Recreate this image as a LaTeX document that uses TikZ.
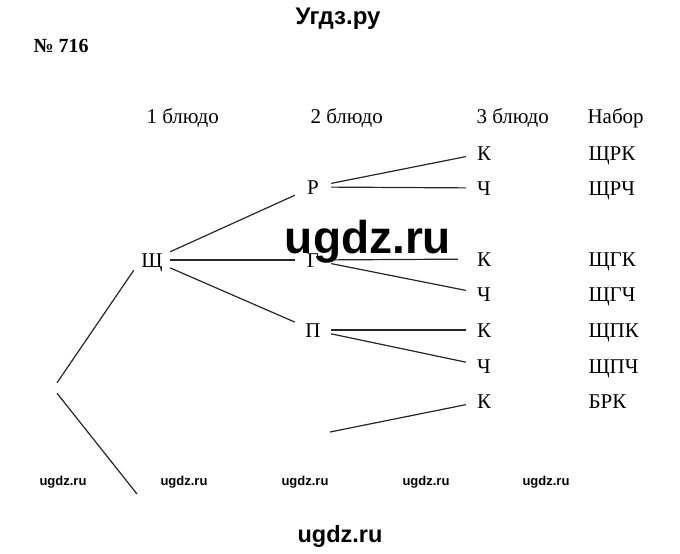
\documentclass[tikz,border=0pt]{standalone}
\usepackage{fontspec}
\setmainfont{Liberation Serif}
\newfontfamily\wmfont{Liberation Sans}
\usetikzlibrary{positioning}

\begin{document}
\begin{tikzpicture}[
  x=1pt, y=-1pt,
  font=\rmfamily\fontsize{21}{25}\selectfont,
  letter/.style={inner sep=0pt, minimum width=36pt, minimum height=20pt,
                 text height=14pt, text depth=0pt},
  head/.style={anchor=base west},
  wmark/.style={font=\wmfont\bfseries\fontsize{13}{15}\selectfont, anchor=base},
  edge/.style={line width=1.2pt, draw=black!85}]
  \useasboundingbox (0,0) rectangle (680,554);
  % title and task number
  \node[anchor=base, font=\wmfont\bfseries\fontsize{24}{28}\selectfont] (title) at (338,24) {Угдз.ру};
  \node[anchor=base west, font=\rmfamily\bfseries\fontsize{20}{24}\selectfont] (task) at (30,52) {№ 716};
  % column heads
  \node[head] (h1) at (143,123) {1 блюдо};
  \node[head] (h2) at (307,123) {2 блюдо};
  \node[head] (h3) at (473,123) {3 блюдо};
  \node[head] (h4) at (584,123) {Набор};
  % tree
  \node[inner sep=0pt, minimum width=0pt, minimum height=10pt] (root) at (57,388) {};
  \coordinate (bend) at (137,494);
  \coordinate (bfree) at (330,432);
  \node[letter] (shch) at (152,260) {Щ};
  \node[letter] (r)  at (313,187) {Р};
  \node[letter] (g)  at (313,260) {Г};
  \node[letter] (p)  at (313,330) {П};
  \node[letter] (k1)  at (484,153) {К};
  \node[letter] (ch1) at (484,188) {Ч};
  \node[letter] (k2)  at (484,259) {К};
  \node[letter] (ch2) at (484,294) {Ч};
  \node[letter] (k3)  at (484,330) {К};
  \node[letter] (ch3) at (484,366) {Ч};
  \node[letter] (k4)  at (484,401) {К};
  % sets
  \node[head] (s1) at (585,160) {ЩРК};
  \node[head] (s2) at (585,195) {ЩРЧ};
  \node[head] (s3) at (585,266) {ЩГК};
  \node[head] (s4) at (585,301) {ЩГЧ};
  \node[head] (s5) at (585,337) {ЩПК};
  \node[head] (s6) at (585,373) {ЩПЧ};
  \node[head] (s7) at (585,408) {БРК};
  % branches
  \draw[edge] (root.north) -- (shch.south west);
  \draw[edge] (root.south) -- (bend);
  \draw[edge] (shch) -- (r);
  \draw[edge] (shch) -- (g);
  \draw[edge] (shch) -- (p);
  \draw[edge] (r) -- (k1);
  \draw[edge] (r) -- (ch1);
  \draw[edge, shorten >=8pt] (g) -- (k2);
  \draw[edge] (g) -- (ch2);
  \draw[edge] (p) -- (k3);
  \draw[edge] (p) -- (ch3);
  \draw[edge] (bfree) -- (k4);
  % watermarks
  \node[wmark, font=\wmfont\bfseries\fontsize{46}{52}\selectfont] (wbig) at (368,253) {ugdz.ru};
  \foreach \x [count=\i] in {63,184,305,426,546}
    \node[wmark] (w\i) at (\x,485) {ugdz.ru};
  \node[wmark, font=\wmfont\bfseries\fontsize{23.5}{28}\selectfont] (wbot) at (340,542) {ugdz.ru};
\end{tikzpicture}
\end{document}
